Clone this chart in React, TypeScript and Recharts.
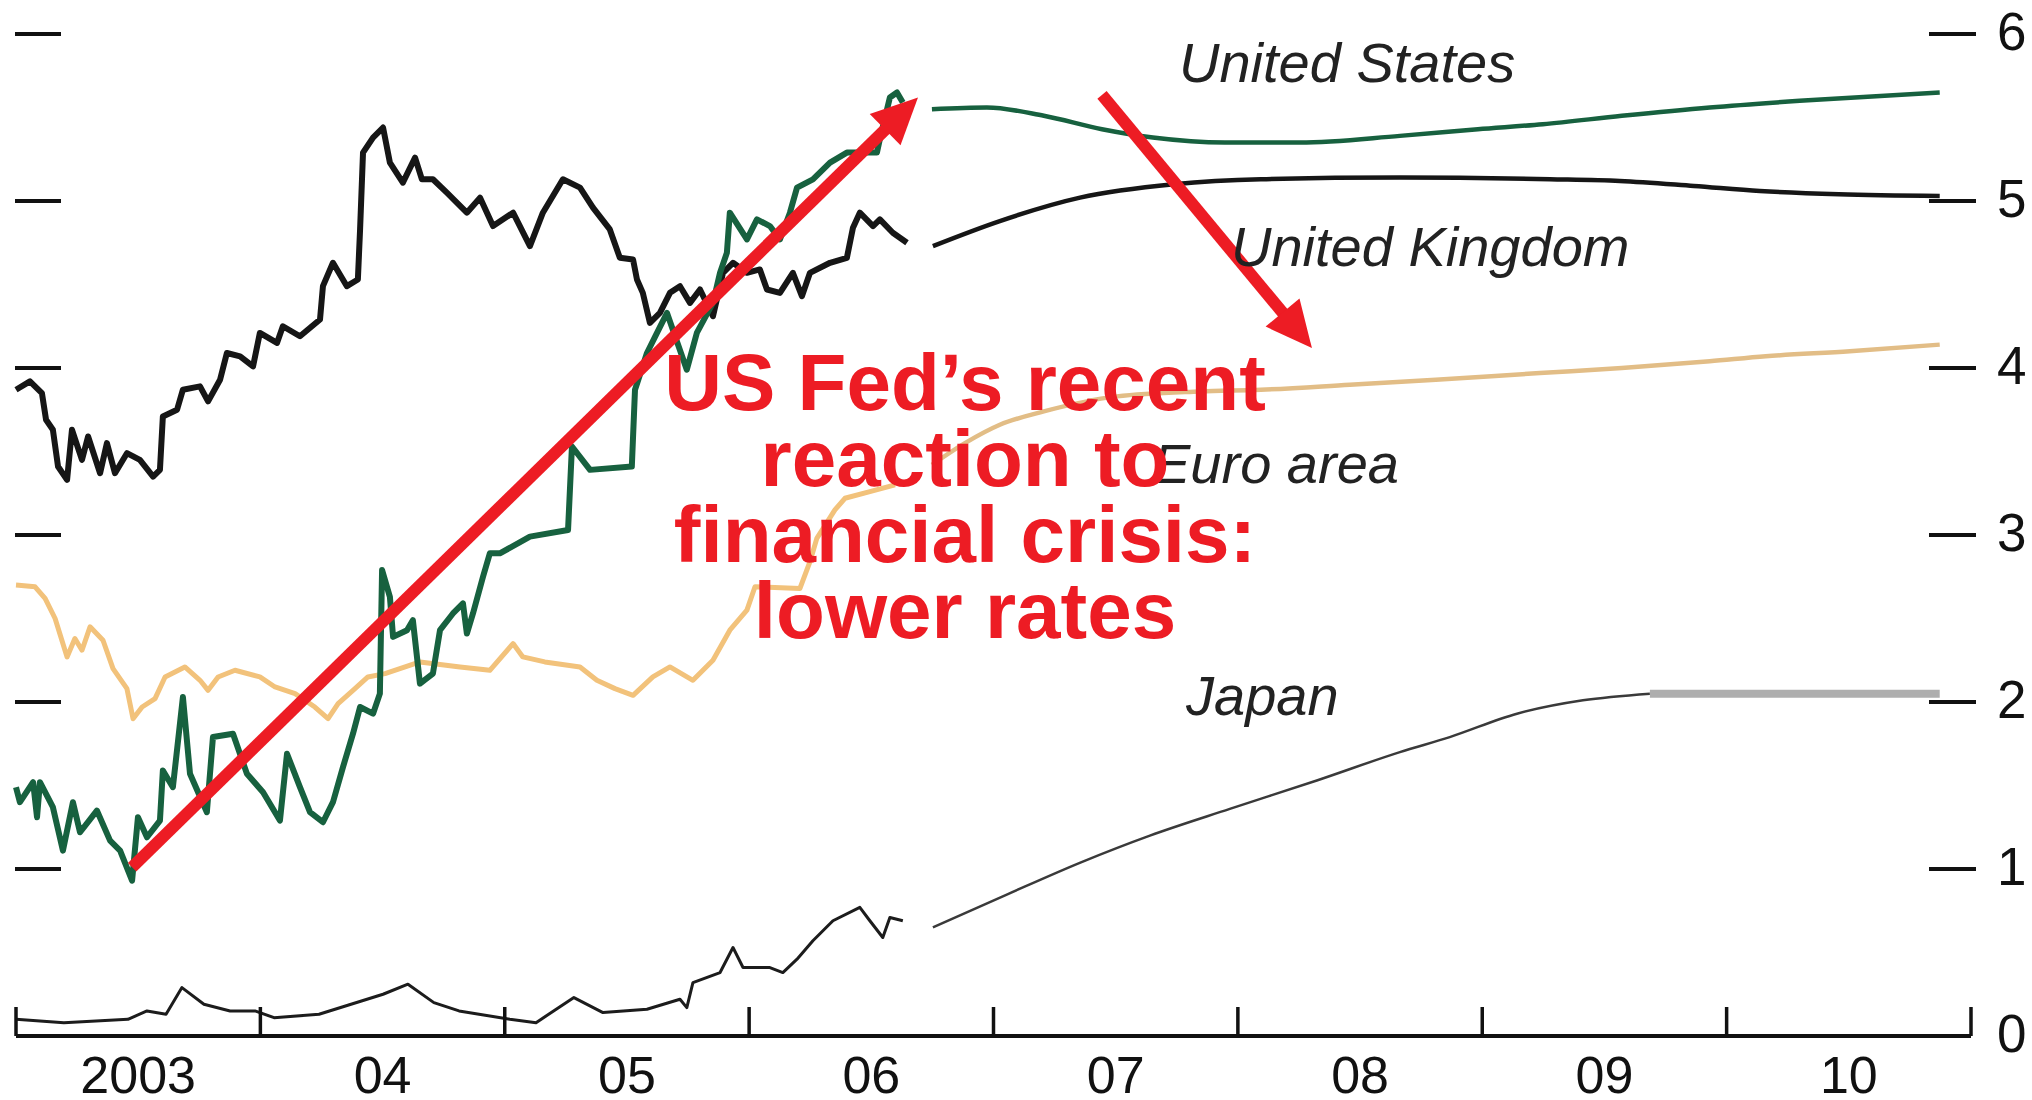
import { LineChart, Line, XAxis, YAxis, ReferenceLine } from 'recharts';

const FONT = '"Liberation Sans", Arial, Helvetica, sans-serif';
const RED = '#ed1c24';
const GREEN = '#17613f';
const BLACK = '#161616';
const ORANGE = '#f2c27b';

// integer years get the upward tick, the .5 positions carry the year label
const yearTicks = [2003, 2003.5, 2004, 2004.5, 2005, 2005.5, 2006, 2006.5, 2007, 2007.5, 2008, 2008.5, 2009, 2009.5, 2010, 2010.5, 2011];
const rightTicks = [0, 1, 2, 3, 4, 5, 6];
const leftTicks = [1, 2, 3, 4, 5, 6];

// [year, rate %]
const usHistory = [
  [2003.0, 1.49], [2003.016, 1.4], [2003.07, 1.52], [2003.086, 1.31], [2003.098, 1.52], [2003.151, 1.37],
  [2003.192, 1.11], [2003.233, 1.4], [2003.262, 1.22], [2003.331, 1.35], [2003.385, 1.17], [2003.426, 1.11],
  [2003.475, 0.93], [2003.499, 1.31], [2003.536, 1.19], [2003.589, 1.29], [2003.601, 1.59], [2003.642, 1.49],
  [2003.683, 2.03], [2003.712, 1.57], [2003.781, 1.34], [2003.806, 1.79], [2003.888, 1.81], [2003.945, 1.57],
  [2004.011, 1.46], [2004.08, 1.29], [2004.109, 1.69], [2004.162, 1.49], [2004.203, 1.34], [2004.256, 1.28],
  [2004.297, 1.4], [2004.338, 1.61], [2004.379, 1.81], [2004.408, 1.97], [2004.461, 1.93], [2004.489, 2.05],
  [2004.498, 2.79], [2004.53, 2.63], [2004.543, 2.39], [2004.6, 2.43], [2004.624, 2.49], [2004.653, 2.11],
  [2004.706, 2.17], [2004.735, 2.43], [2004.788, 2.53], [2004.829, 2.59], [2004.845, 2.41], [2004.87, 2.53],
  [2004.911, 2.75], [2004.939, 2.89], [2004.98, 2.89], [2005.103, 2.99], [2005.259, 3.03], [2005.275, 3.53],
  [2005.349, 3.39], [2005.52, 3.41], [2005.533, 3.87], [2005.582, 4.09], [2005.623, 4.21], [2005.664, 4.33],
  [2005.745, 3.99], [2005.786, 4.21], [2005.852, 4.39], [2005.881, 4.57], [2005.909, 4.69], [2005.921, 4.93],
  [2005.991, 4.77], [2006.032, 4.89], [2006.085, 4.85], [2006.126, 4.77], [2006.167, 4.93], [2006.196, 5.08],
  [2006.261, 5.13], [2006.331, 5.23], [2006.4, 5.29], [2006.523, 5.29], [2006.535, 5.37], [2006.576, 5.62],
  [2006.605, 5.65], [2006.629, 5.59],
];
const usForward = [
  [2006.748, 5.55], [2006.973, 5.56], [2007.206, 5.51], [2007.444, 5.43], [2007.652, 5.38], [2007.947, 5.35],
  [2008.254, 5.35], [2008.663, 5.39], [2008.982, 5.43], [2009.248, 5.46], [2009.571, 5.51], [2009.931, 5.56],
  [2010.299, 5.6], [2010.872, 5.65],
];

const ukHistory = [
  [2003.0, 3.87], [2003.057, 3.92], [2003.106, 3.85], [2003.123, 3.69], [2003.151, 3.63], [2003.172, 3.41],
  [2003.209, 3.33], [2003.229, 3.63], [2003.27, 3.45], [2003.295, 3.59], [2003.344, 3.37], [2003.372, 3.55],
  [2003.405, 3.37], [2003.454, 3.49], [2003.507, 3.45], [2003.561, 3.35], [2003.589, 3.39], [2003.601, 3.71],
  [2003.659, 3.75], [2003.683, 3.87], [2003.753, 3.89], [2003.786, 3.8], [2003.835, 3.93], [2003.863, 4.09],
  [2003.917, 4.07], [2003.97, 4.01], [2003.998, 4.21], [2004.068, 4.15], [2004.092, 4.25], [2004.162, 4.19],
  [2004.244, 4.29], [2004.256, 4.49], [2004.297, 4.63], [2004.354, 4.49], [2004.399, 4.53], [2004.408, 4.83],
  [2004.42, 5.29], [2004.461, 5.38], [2004.502, 5.44], [2004.53, 5.23], [2004.583, 5.11], [2004.633, 5.26],
  [2004.661, 5.13], [2004.706, 5.13], [2004.763, 5.05], [2004.845, 4.93], [2004.899, 5.02], [2004.952, 4.85],
  [2005.034, 4.93], [2005.103, 4.73], [2005.156, 4.93], [2005.238, 5.13], [2005.308, 5.08], [2005.361, 4.96],
  [2005.43, 4.83], [2005.471, 4.66], [2005.525, 4.65], [2005.541, 4.53], [2005.565, 4.45], [2005.594, 4.27],
  [2005.635, 4.33], [2005.676, 4.45], [2005.717, 4.49], [2005.758, 4.39], [2005.799, 4.47], [2005.852, 4.31],
  [2005.893, 4.57], [2005.934, 4.63], [2005.991, 4.57], [2006.044, 4.59], [2006.073, 4.47], [2006.126, 4.45],
  [2006.179, 4.57], [2006.216, 4.43], [2006.249, 4.57], [2006.331, 4.63], [2006.4, 4.66], [2006.425, 4.84],
  [2006.453, 4.93], [2006.507, 4.85], [2006.535, 4.89], [2006.588, 4.81], [2006.646, 4.75],
];
const ukForward = [
  [2006.752, 4.73], [2007.026, 4.88], [2007.354, 5.02], [2007.738, 5.1], [2008.094, 5.13], [2008.663, 5.14],
  [2009.277, 5.13], [2009.563, 5.12], [2009.866, 5.09], [2010.136, 5.06], [2010.459, 5.04], [2010.872, 5.03],
];

const euroHistory = [
  [2003.0, 2.7], [2003.078, 2.69], [2003.119, 2.62], [2003.16, 2.5], [2003.209, 2.27], [2003.241, 2.38],
  [2003.27, 2.31], [2003.303, 2.45], [2003.356, 2.37], [2003.397, 2.2], [2003.454, 2.08], [2003.479, 1.9],
  [2003.516, 1.97], [2003.569, 2.02], [2003.61, 2.15], [2003.691, 2.21], [2003.753, 2.13], [2003.786, 2.07],
  [2003.827, 2.15], [2003.896, 2.19], [2003.998, 2.15], [2004.06, 2.09], [2004.142, 2.05], [2004.223, 1.97],
  [2004.277, 1.9], [2004.318, 1.99], [2004.387, 2.08], [2004.44, 2.15], [2004.51, 2.17], [2004.571, 2.2],
  [2004.653, 2.24], [2004.817, 2.21], [2004.939, 2.19], [2005.034, 2.35], [2005.074, 2.27], [2005.164, 2.24],
  [2005.308, 2.21], [2005.377, 2.13], [2005.451, 2.08], [2005.525, 2.04], [2005.606, 2.15], [2005.676, 2.21],
  [2005.77, 2.13], [2005.852, 2.25], [2005.921, 2.43], [2005.991, 2.55], [2006.024, 2.69], [2006.208, 2.68],
  [2006.249, 2.84], [2006.277, 2.98], [2006.351, 3.15], [2006.392, 3.22], [2006.494, 3.26], [2006.597, 3.3],
];
const euroForward = [
  [2006.748, 3.42], [2006.883, 3.55], [2007.026, 3.66], [2007.206, 3.74], [2007.505, 3.83], [2007.845, 3.86],
  [2008.094, 3.87], [2008.458, 3.9], [2008.81, 3.93], [2009.236, 3.97], [2009.571, 4.0], [2009.931, 4.04],
  [2010.16, 4.07], [2010.504, 4.1], [2010.872, 4.14],
];

const japanHistory = [
  [2003.0, 0.1], [2003.196, 0.08], [2003.458, 0.1], [2003.536, 0.15], [2003.614, 0.13], [2003.679, 0.29],
  [2003.769, 0.19], [2003.876, 0.15], [2003.978, 0.15], [2004.056, 0.11], [2004.24, 0.13], [2004.371, 0.19],
  [2004.502, 0.25], [2004.604, 0.31], [2004.71, 0.2], [2004.813, 0.15], [2005.021, 0.1], [2005.128, 0.08],
  [2005.283, 0.23], [2005.402, 0.14], [2005.582, 0.16], [2005.717, 0.22], [2005.745, 0.17], [2005.77, 0.32],
  [2005.881, 0.38], [2005.934, 0.53], [2005.975, 0.41], [2006.085, 0.41], [2006.138, 0.38], [2006.196, 0.46],
  [2006.261, 0.57], [2006.343, 0.69], [2006.453, 0.77], [2006.494, 0.69], [2006.547, 0.59], [2006.576, 0.71],
  [2006.629, 0.69],
];
const japanForward = [
  [2006.752, 0.65], [2007.059, 0.85], [2007.358, 1.04], [2007.64, 1.2], [2007.967, 1.36], [2008.323, 1.53],
  [2008.663, 1.7], [2008.867, 1.79], [2009.142, 1.93], [2009.412, 2.01], [2009.686, 2.05],
];
const japanPlateau = [[2009.686, 2.05], [2010.872, 2.05]];

// annotation arrows, in chart units
const arrowUp = [{ x: 2003.475, y: 1.01 }, { x: 2006.691, y: 5.62 }];
const arrowDown = [{ x: 2007.444, y: 5.635 }, { x: 2008.303, y: 4.12 }];

const seriesLabels = [
  { text: 'United States', x: 1179, y: 82 },
  { text: 'United Kingdom', x: 1231, y: 266 },
  { text: 'Euro area', x: 1153, y: 483 },
  { text: 'Japan', x: 1186, y: 715 },
];
const noteLines = ['US Fed\u2019s recent', 'reaction to', 'financial crisis:', 'lower rates'];

const toPts = (arr: number[][]) => arr.map(([t, v]) => ({ t, v }));

function YearTick({ x, y, payload }: any) {
  const v = payload.value;
  if (Number.isInteger(v)) {
    return <line x1={x} y1={y} x2={x} y2={y - 29} stroke="#111" strokeWidth={3.5} />;
  }
  const yr = Math.floor(v);
  const label = yr === 2003 ? '2003' : String(yr % 100).padStart(2, '0');
  return (
    <text x={x} y={y + 57} textAnchor="middle" fontFamily={FONT} fontSize={52} fill="#111">
      {label}
    </text>
  );
}

function RightTick({ x, y, payload }: any) {
  return (
    <g>
      {payload.value !== 0 && <line x1={x - 42} y1={y} x2={x + 5} y2={y} stroke="#111" strokeWidth={4} />}
      <text x={x + 26} y={y + 16} fontFamily={FONT} fontSize={53} fill="#111">
        {payload.value}
      </text>
    </g>
  );
}

// short dash at the left edge of the plot for each gridline level
function LeftDash(props: any) {
  const left = Math.min(props.x1, props.x2);
  const { y1 } = props;
  return <line x1={left - 1} y1={y1} x2={left + 45} y2={y1} stroke="#111" strokeWidth={4} />;
}

function Arrow(props: any) {
  const { x1, y1, x2, y2 } = props;
  const dx = x2 - x1;
  const dy = y2 - y1;
  const len = Math.hypot(dx, dy);
  const ux = dx / len;
  const uy = dy / len;
  const head = 46;
  const half = 22;
  const bx = x2 - ux * head;
  const by = y2 - uy * head;
  return (
    <g>
      <line x1={x1} y1={y1} x2={bx + ux * 4} y2={by + uy * 4} stroke={RED} strokeWidth={12} />
      <polygon
        points={`${x2},${y2} ${bx - uy * half},${by + ux * half} ${bx + uy * half},${by - ux * half}`}
        fill={RED}
      />
    </g>
  );
}

export default function App() {
  const line = (data: number[][], stroke: string, width: number, type: any = 'linear') => (
    <Line
      yAxisId="r"
      data={toPts(data)}
      dataKey="v"
      type={type}
      stroke={stroke}
      strokeWidth={width}
      strokeLinejoin="round"
      dot={false}
      activeDot={false}
      isAnimationActive={false}
    />
  );

  return (
    <div style={{ position: 'absolute', left: 0, top: 0, width: 2032, height: 1100, background: '#fff' }}>
      <LineChart width={2032} height={1100} margin={{ top: 34, right: 0, bottom: 0, left: 16 }}>
        <XAxis
          dataKey="t"
          type="number"
          domain={[2003, 2011]}
          ticks={yearTicks}
          interval={0}
          tick={<YearTick />}
          tickLine={false}
          tickSize={0}
          tickMargin={0}
          axisLine={{ stroke: '#111', strokeWidth: 4 }}
          height={64}
        />
        <YAxis
          yAxisId="r"
          orientation="right"
          type="number"
          domain={[0, 6]}
          ticks={rightTicks}
          interval={0}
          width={61}
          tick={<RightTick />}
          tickLine={false}
          tickSize={0}
          tickMargin={0}
          axisLine={false}
        />
        {leftTicks.map((v) => (
          <ReferenceLine key={`lt${v}`} yAxisId="r" y={v} shape={LeftDash} />
        ))}
        {line(japanHistory, '#1c1c1c', 3)}
        {line(japanForward, '#3a3a3a', 2.5, 'monotone')}
        {line(japanPlateau, '#aeaeae', 8)}
        {line(euroHistory, ORANGE, 5)}
        {line(euroForward, '#e2bd86', 4.5, 'monotone')}
        {line(ukHistory, BLACK, 6)}
        {line(ukForward, BLACK, 4.5, 'monotone')}
        {line(usHistory, GREEN, 6)}
        {line(usForward, GREEN, 4.5, 'monotone')}
        <ReferenceLine yAxisId="r" segment={arrowUp} shape={Arrow} ifOverflow="visible" />
        <ReferenceLine yAxisId="r" segment={arrowDown} shape={Arrow} ifOverflow="visible" />
      </LineChart>
      <svg
        width={2032}
        height={1100}
        style={{ position: 'absolute', left: 0, top: 0, pointerEvents: 'none' }}
      >
        {seriesLabels.map((s) => (
          <text key={s.text} x={s.x} y={s.y} fontFamily={FONT} fontStyle="italic" fontSize={56} fill="#222">
            {s.text}
          </text>
        ))}
        {noteLines.map((t, i) => (
          <text
            key={t}
            x={965}
            y={410 + i * 76}
            textAnchor="middle"
            fontFamily={FONT}
            fontWeight="bold"
            fontSize={80}
            fill={RED}
          >
            {t}
          </text>
        ))}
      </svg>
    </div>
  );
}
